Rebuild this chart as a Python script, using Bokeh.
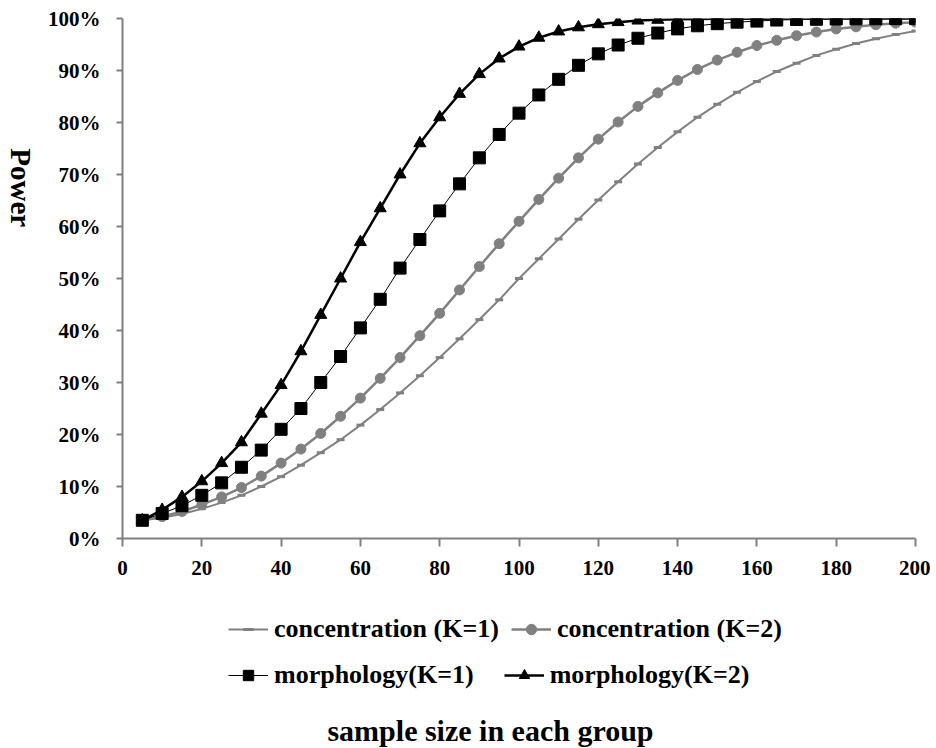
import math
from bokeh.plotting import figure
from bokeh.layouts import column, row
from bokeh.models import Legend, LegendItem, Label, NumeralTickFormatter, FixedTicker, Range1d
from bokeh.embed import file_html
from bokeh.resources import INLINE

# ---- data ----
sample_size = list(range(5, 205, 5))

conc_k1 = [3.5, 4.0, 4.7, 5.7, 6.9, 8.3, 10.0, 11.9, 14.1, 16.5,
           19.0, 21.8, 24.8, 28.0, 31.3, 34.8, 38.4, 42.1, 45.9, 50.0,
           53.8, 57.6, 61.4, 65.1, 68.6, 72.0, 75.2, 78.2, 81.0, 83.5,
           85.8, 87.9, 89.8, 91.4, 92.9, 94.1, 95.2, 96.1, 96.9, 97.6]

conc_k2 = [3.5, 4.2, 5.2, 6.5, 8.0, 9.8, 12.0, 14.5, 17.2, 20.2,
           23.5, 27.0, 30.8, 34.8, 39.0, 43.3, 47.8, 52.3, 56.7, 61.0,
           65.2, 69.3, 73.2, 76.8, 80.1, 83.1, 85.7, 88.1, 90.2, 92.0,
           93.5, 94.8, 95.8, 96.7, 97.4, 98.0, 98.4, 98.8, 99.1, 99.3]

morph_k1 = [3.5, 4.8, 6.3, 8.3, 10.7, 13.7, 17.0, 21.0, 25.0, 30.0,
            35.0, 40.5, 46.0, 52.0, 57.5, 63.0, 68.2, 73.2, 77.7, 81.8,
            85.3, 88.3, 91.0, 93.2, 94.9, 96.2, 97.2, 98.0, 98.6, 99.0,
            99.3, 99.5, 99.7, 99.8, 99.85, 99.9, 99.93, 99.95, 99.97, 99.98]

morph_k2 = [3.5, 5.5, 8.0, 11.0, 14.5, 18.5, 24.0, 29.5, 36.0, 43.0,
            50.0, 57.0, 63.5, 70.0, 76.0, 81.0, 85.5, 89.3, 92.3, 94.6,
            96.3, 97.5, 98.3, 98.9, 99.3, 99.6, 99.75, 99.85, 99.9, 99.93,
            99.95, 99.97, 99.98, 99.99, 99.99, 100.0, 100.0, 100.0, 100.0, 100.0]

series_labels = ["concentration (K=1)", "concentration (K=2)",
                 "morphology(K=1)", "morphology(K=2)"]
x_ticks = list(range(0, 201, 20))
y_ticks = [i / 10 for i in range(0, 11)]
y_title = "Power"
x_title = "sample size in each group"

FONT = "Liberation Serif"
GRAY = "#808080"
BLACK = "#000000"

# styles for each series: (line_color, line_width, marker, marker_size, marker_line_width)
styles = [
    (GRAY, 2.0, "dash", 8, 3),
    (GRAY, 2.5, "circle", 10, 1),
    (BLACK, 1.0, "square", 12, 1),
    (BLACK, 2.5, "triangle", 12, 1),
]
series = [conc_k1, conc_k2, morph_k1, morph_k2]


def bare(fig):
    fig.outline_line_color = None
    fig.xgrid.visible = False
    fig.ygrid.visible = False
    fig.xaxis.visible = False
    fig.yaxis.visible = False


# ---------- main chart ----------
p = figure(width=890, height=590,
           x_range=Range1d(0, 200), y_range=Range1d(0, 1),
           output_backend="svg", toolbar_location=None,
           min_border_left=82, min_border_top=18, min_border_right=15,
           min_border_bottom=52,
           background_fill_color="white", border_fill_color="white")
p.outline_line_color = None
p.xgrid.visible = False
p.ygrid.visible = False

for vals, (col, lw, mk, ms, mlw) in zip(series, styles):
    y = [v / 100.0 for v in vals]
    p.line(sample_size, y, line_color=col, line_width=lw)
    p.scatter(sample_size, y, marker=mk, size=ms, fill_color=col,
              line_color=col, line_width=mlw)

for ax in (p.xaxis[0], p.yaxis[0]):
    ax.axis_line_color = GRAY
    ax.axis_line_width = 2
    ax.major_tick_line_color = GRAY
    ax.major_tick_line_width = 2
    ax.minor_tick_line_color = None
    ax.major_label_text_font = FONT
    ax.major_label_text_font_style = "bold"
    ax.major_label_text_font_size = "21px"
    ax.major_label_text_color = BLACK

p.xaxis.ticker = FixedTicker(ticks=x_ticks)
p.xaxis.major_tick_in = 0
p.xaxis.major_tick_out = 8
p.xaxis.major_label_standoff = 14

p.yaxis.ticker = FixedTicker(ticks=y_ticks)
p.yaxis.formatter = NumeralTickFormatter(format="0%")
p.yaxis.major_tick_in = 0
p.yaxis.major_tick_out = 6
p.yaxis.major_label_standoff = 16

# ---------- left strip with the vertical "Power" title ----------
pl = figure(width=40, height=590, x_range=Range1d(0, 40), y_range=Range1d(0, 590),
            output_backend="svg", toolbar_location=None,
            min_border=0, background_fill_color="white", border_fill_color="white")
bare(pl)
pl.add_layout(Label(x=20, y=398, text=y_title, angle=-math.pi / 2,
                    text_font=FONT, text_font_style="bold", text_font_size="29px",
                    text_align="center", text_baseline="middle", text_color=BLACK))

# ---------- bottom strip: legend (two rows) and x title ----------
pb = figure(width=930, height=157, x_range=Range1d(0, 930), y_range=Range1d(0, 157),
            output_backend="svg", toolbar_location=None,
            min_border=0, background_fill_color="white", border_fill_color="white")
bare(pb)

nan_pt = [float("nan")]
legend_renderers = []
for col, lw, mk, ms, mlw in styles:
    ln = pb.line(nan_pt, nan_pt, line_color=col, line_width=lw)
    sc = pb.scatter(nan_pt, nan_pt, marker=mk, size=ms, fill_color=col,
                    line_color=col, line_width=mlw)
    legend_renderers.append([ln, sc])

leg_style = dict(orientation="horizontal",
                 label_text_font=FONT, label_text_font_style="bold",
                 label_text_font_size="26px", label_text_color=BLACK,
                 glyph_width=40, glyph_height=26, label_height=26,
                 label_standoff=6, padding=10, margin=0,
                 border_line_color=None, background_fill_alpha=0)

legend1 = Legend(items=[LegendItem(label=series_labels[0], renderers=legend_renderers[0]),
                        LegendItem(label=series_labels[1], renderers=legend_renderers[1])],
                 location=(228, 103), spacing=12, **leg_style)
legend2 = Legend(items=[LegendItem(label=series_labels[2], renderers=legend_renderers[2]),
                        LegendItem(label=series_labels[3], renderers=legend_renderers[3])],
                 location=(228, 57), spacing=30, **leg_style)
pb.add_layout(legend1, "center")
pb.add_layout(legend2, "center")

pb.add_layout(Label(x=490, y=17, text=x_title,
                    text_font=FONT, text_font_style="bold", text_font_size="30px",
                    text_align="center", text_baseline="alphabetic", text_color=BLACK))

layout = column(row(pl, p), pb)
open("out.html", "w").write(file_html(layout, INLINE))
